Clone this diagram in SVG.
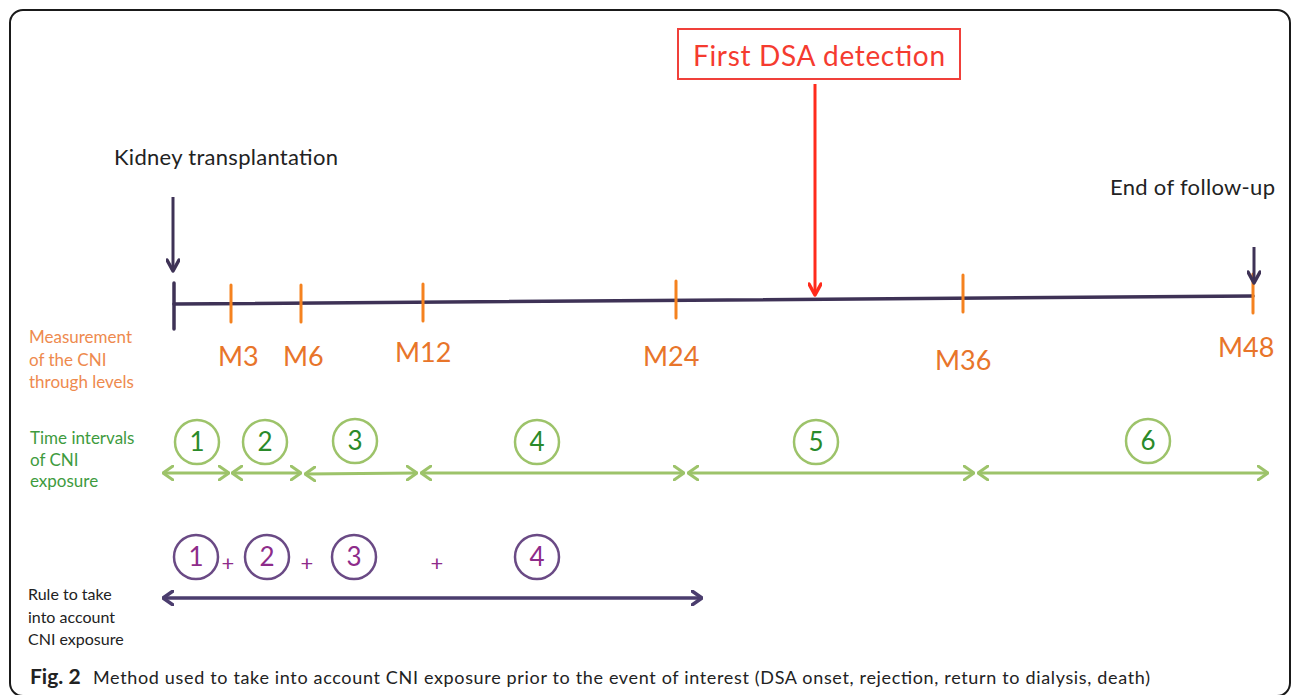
<svg xmlns="http://www.w3.org/2000/svg" width="1296" height="695" viewBox="0 0 1296 695">
<defs>
<style>
text{font-family:Lato,"Open Sans","Liberation Sans",sans-serif}
.frame{fill:#fff;stroke:#1a1a1a;stroke-width:2}
.axis{stroke:#3E3256;stroke-width:3.5;fill:none;stroke-linecap:round}
.tick{stroke:#F5821F;stroke-width:3;stroke-linecap:round}
.mlab{fill:#E8752A;font-size:27px}
.olab{fill:#EE8A4E;font-size:17px}
.glab{fill:#3E9B3E;font-size:17px}
.klab{fill:#222;font-size:16px}
.top{fill:#222;font-size:22px}
.gcirc{fill:none;stroke:#9DC36A;stroke-width:2.5}
.gnum{fill:#2A8A2A;font-size:26px;text-anchor:middle}
.pcirc{fill:none;stroke:#6A4A85;stroke-width:2.5}
.pnum{fill:#8E2C8A;font-size:26px;text-anchor:middle}
.plus{fill:#8E2C8A;font-size:22px;text-anchor:middle}
.garr{stroke:#9DC36A;stroke-width:3;fill:none;marker-start:url(#gh);marker-end:url(#gh)}
.parr{stroke:#4B3D6E;stroke-width:3.5;fill:none;marker-start:url(#ph);marker-end:url(#ph)}
.darr{stroke:#3E3256;stroke-width:3;fill:none;marker-end:url(#dh)}
.rarr{stroke:#FF2B1C;stroke-width:3;fill:none;marker-end:url(#rh)}
</style>
<marker id="gh" viewBox="0 0 12 16" refX="11" refY="8" markerWidth="12" markerHeight="16" markerUnits="userSpaceOnUse" orient="auto-start-reverse"><path d="M1,1 L11,8 L1,15" fill="none" stroke="#9DC36A" stroke-width="3" stroke-linecap="round" stroke-linejoin="round"/></marker>
<marker id="ph" viewBox="0 0 12 16" refX="11" refY="8" markerWidth="12" markerHeight="16" markerUnits="userSpaceOnUse" orient="auto-start-reverse"><path d="M1,1 L11,8 L1,15" fill="none" stroke="#4B3D6E" stroke-width="3.5" stroke-linecap="round" stroke-linejoin="round"/></marker>
<marker id="dh" viewBox="0 0 18 14" refX="13" refY="7" markerWidth="18" markerHeight="14" markerUnits="userSpaceOnUse" orient="auto"><path d="M2,1 L13,7 L2,13" fill="none" stroke="#3E3256" stroke-width="3.5" stroke-linecap="round" stroke-linejoin="round"/></marker>
<marker id="rh" viewBox="0 0 18 14" refX="13" refY="7" markerWidth="18" markerHeight="14" markerUnits="userSpaceOnUse" orient="auto"><path d="M2,1 L13,7 L2,13" fill="none" stroke="#FF2B1C" stroke-width="3.5" stroke-linecap="round" stroke-linejoin="round"/></marker>
</defs>
<rect x="0" y="0" width="1296" height="695" fill="#fff"/>
<rect class="frame" x="10" y="10" width="1280" height="686" rx="13"/>

<g id="timeline">
<line class="axis" x1="174" y1="304" x2="1253" y2="296"/>
<line class="axis" x1="174" y1="283" x2="174" y2="329"/>
<line class="tick" x1="231" y1="285" x2="231" y2="322"/>
<line class="tick" x1="301" y1="285" x2="301" y2="322"/>
<line class="tick" x1="423" y1="284" x2="423" y2="321"/>
<line class="tick" x1="676" y1="281" x2="676" y2="318"/>
<line class="tick" x1="963" y1="275" x2="963" y2="312"/>
<line class="tick" x1="1253" y1="274" x2="1253" y2="313"/>
</g>

<g id="month-labels">
<text class="mlab" x="218" y="366">M3</text>
<text class="mlab" x="283" y="366">M6</text>
<text class="mlab" x="395" y="362">M12</text>
<text class="mlab" x="643" y="366">M24</text>
<text class="mlab" x="935" y="370">M36</text>
<text class="mlab" x="1218" y="357">M48</text>
</g>

<g id="kidney">
<text class="top" x="114" y="165" textLength="224">Kidney transplantation</text>
</g>
<g id="end-followup">
<text class="top" x="1110" y="195" textLength="165">End of follow-up</text>
</g>
<g id="dsa">
<rect x="678" y="29" width="282" height="50" fill="#fff" stroke="#F0403A" stroke-width="2"/>
<text x="819" y="66" fill="#F53B2F" font-size="28" text-anchor="middle" textLength="252">First DSA detection</text>
</g>

<g id="row-labels">
<text class="olab"><tspan x="29" y="343">Measurement</tspan><tspan x="29" y="366">of the CNI</tspan><tspan x="29" y="388">through levels</tspan></text>
<text class="glab"><tspan x="30" y="444">Time intervals</tspan><tspan x="30" y="466">of CNI</tspan><tspan x="30" y="487">exposure</tspan></text>
<text class="klab"><tspan x="28" y="600">Rule to take</tspan><tspan x="28" y="623">into account</tspan><tspan x="28" y="645">CNI exposure</tspan></text>
</g>

<g id="intervals">
<g id="i1"><circle class="gcirc" cx="197" cy="442" r="22"/><text class="gnum" x="197" y="451">1</text></g>
<g id="i2"><circle class="gcirc" cx="265" cy="442" r="22"/><text class="gnum" x="265" y="451">2</text></g>
<g id="i3"><circle class="gcirc" cx="355" cy="441" r="22"/><text class="gnum" x="355" y="450">3</text></g>
<g id="i4"><circle class="gcirc" cx="537" cy="442" r="22"/><text class="gnum" x="537" y="451">4</text></g>
<g id="i5"><circle class="gcirc" cx="816" cy="442" r="22"/><text class="gnum" x="816" y="451">5</text></g>
<g id="i6"><circle class="gcirc" cx="1148" cy="441" r="22"/><text class="gnum" x="1148" y="450">6</text></g>
</g>

<g id="rule">
<g id="r1"><circle class="pcirc" cx="196" cy="557" r="22"/><text class="pnum" x="196" y="566">1</text></g>
<g id="r2"><circle class="pcirc" cx="267" cy="557" r="22"/><text class="pnum" x="267" y="566">2</text></g>
<g id="r3"><circle class="pcirc" cx="354" cy="557" r="22"/><text class="pnum" x="354" y="566">3</text></g>
<g id="r4"><circle class="pcirc" cx="537" cy="557" r="22"/><text class="pnum" x="537" y="566">4</text></g>
<text class="plus" x="228" y="571">+</text>
<text class="plus" x="307" y="571">+</text>
<text class="plus" x="437" y="571">+</text>
</g>

<g id="connectors">
<line class="darr" x1="173" y1="197" x2="173" y2="271"/>
<line class="darr" x1="1254" y1="247" x2="1254" y2="283"/>
<line class="rarr" x1="815" y1="84" x2="815" y2="295"/>
<line class="garr" x1="163" y1="473" x2="229" y2="473"/>
<line class="garr" x1="232" y1="473" x2="301" y2="473"/>
<line class="garr" x1="305" y1="474" x2="417" y2="473"/>
<line class="garr" x1="421" y1="473" x2="684" y2="473"/>
<line class="garr" x1="688" y1="473" x2="974" y2="473"/>
<line class="garr" x1="978" y1="473" x2="1268" y2="473"/>
<line class="parr" x1="163" y1="598" x2="702" y2="598"/>
</g>

<g id="caption">
<text x="30" y="684" font-size="18" fill="#222"><tspan font-weight="bold" font-size="21">Fig. 2</tspan><tspan x="93" textLength="1057">Method used to take into account CNI exposure prior to the event of interest (DSA onset, rejection, return to dialysis, death)</tspan></text>
</g>
</svg>
